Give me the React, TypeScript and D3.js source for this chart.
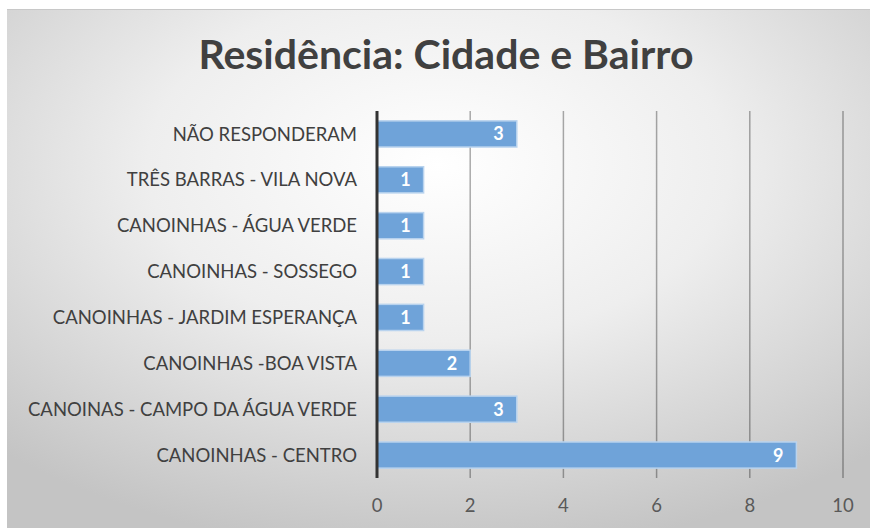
import React from "react";
import * as d3 from "d3";

const categories = [
  "NÃO RESPONDERAM",
  "TRÊS BARRAS - VILA NOVA",
  "CANOINHAS - ÁGUA VERDE",
  "CANOINHAS - SOSSEGO",
  "CANOINHAS - JARDIM ESPERANÇA",
  "CANOINHAS -BOA VISTA",
  "CANOINAS - CAMPO DA ÁGUA VERDE",
  "CANOINHAS - CENTRO",
];
const values = [3, 1, 1, 1, 1, 2, 3, 9];
const xTicks = [0, 2, 4, 6, 8, 10];
const title = "Residência: Cidade e Bairro";

const W = 870;
const H = 528;
const FONT = "Lato, 'Open Sans', sans-serif";

export default function App() {
  const x = d3.scaleLinear().domain([0, 10]).range([377, 843]);
  const y = d3.scaleBand<string>().domain(categories).range([111, 478]).paddingInner(0.43).paddingOuter(0.215);
  const bh = y.bandwidth();
  return (
    <svg width={W} height={H} style={{ position: "absolute", left: 0, top: 0 }}>
      <defs>
        <radialGradient id="bg" cx="0.5" cy="0.3" r="0.75" gradientUnits="objectBoundingBox">
          <stop offset="0" stopColor="#ffffff" />
          <stop offset="0.45" stopColor="#eeeeee" />
          <stop offset="1" stopColor="#c4c4c4" />
        </radialGradient>
      </defs>
      <rect x={0} y={0} width={W} height={H} fill="#ffffff" />
      <rect x={7} y={9} width={W - 7} height={H - 9} fill="url(#bg)" />
      <line x1={7} x2={W} y1={9.5} y2={9.5} stroke="#c8c8c8" strokeWidth={1} />
      <text x={446} y={69} textAnchor="middle" fontFamily={FONT} fontWeight="bold" fontSize={41} fill="#404040">
        {title}
      </text>
      {xTicks.filter((t) => t > 0).map((t) => (
        <line key={t} x1={x(t)} x2={x(t)} y1={111} y2={478} stroke="#000" strokeOpacity={0.33} strokeWidth={1.5} />
      ))}
      {categories.map((c, i) => (
        <g key={c}>
          <rect
            x={x(0)}
            y={y(c)!}
            width={x(values[i]) - x(0)}
            height={bh}
            fill="#6fa3d9"
            stroke="#b9d3ee"
            strokeWidth={1.5}
          />
          <text
            x={x(values[i]) - 13}
            y={y(c)! + bh / 2}
            dy="0.36em"
            textAnchor="end"
            fontFamily={FONT}
            fontWeight="bold"
            fontSize={18}
            fill="#ffffff"
          >
            {values[i]}
          </text>
          <text
            x={357}
            y={y(c)! + bh / 2}
            dy="0.36em"
            textAnchor="end"
            fontFamily={FONT}
            fontSize={18.5}
            fill="#404040"
          >
            {c}
          </text>
        </g>
      ))}
      <line x1={x(0)} x2={x(0)} y1={111} y2={478} stroke="#333333" strokeWidth={3} />
      {xTicks.map((t) => (
        <text key={t} x={x(t)} y={512} textAnchor="middle" fontFamily={FONT} fontSize={18.5} fill="#595959">
          {t}
        </text>
      ))}
    </svg>
  );
}
